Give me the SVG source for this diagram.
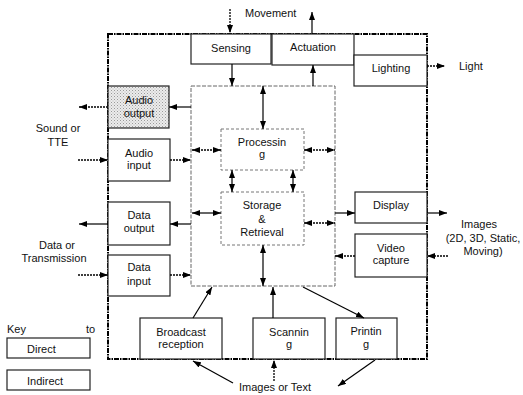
<svg xmlns="http://www.w3.org/2000/svg" width="523" height="395" viewBox="0 0 523 395">
  <defs>
    <marker id="ah" viewBox="0 0 8 6" refX="8" refY="3" markerWidth="8" markerHeight="6" markerUnits="userSpaceOnUse" orient="auto-start-reverse">
      <path d="M0,0 L8,3 L0,6 Z" fill="#000"/>
    </marker>
    <pattern id="stipple" width="3" height="3" patternUnits="userSpaceOnUse">
      <rect width="3" height="3" fill="#ececec"/>
      <rect x="0" y="0" width="1" height="1" fill="#9a9a9a"/>
      <rect x="1.5" y="1.5" width="1" height="1" fill="#b5b5b5"/>
    </pattern>
    <style>
      text { font-family: "Liberation Sans", Arial, sans-serif; font-size: 11px; fill: #111; }
      .c { text-anchor: middle; }
      .box { fill: #fff; stroke: #222; stroke-width: 1.2; }
      .inner { fill: #fff; stroke: #777; stroke-width: 1; stroke-dasharray: 3 2; }
      .hub { fill: #fff; stroke: #666; stroke-width: 1; stroke-dasharray: 4 1.5; }
      .frame { fill: none; stroke: #000; stroke-width: 2; stroke-dasharray: 5 1 1.5 1; }
      .solid { stroke: #000; stroke-width: 1.2; fill: none; }
      .dot { stroke: #000; stroke-width: 1.3; fill: none; stroke-dasharray: 2 1; }
      .one { marker-end: url(#ah); }
      .two { marker-start: url(#ah); marker-end: url(#ah); }
    </style>
  </defs>

  <!-- central hub region -->
  <g id="hub">
    <rect class="hub" x="191" y="86" width="144" height="200"/>
  </g>

  <!-- system boundary -->
  <g id="boundary">
    <rect class="frame" x="108" y="34" width="319" height="325"/>
  </g>

  <g id="sensing">
    <rect class="box" x="191" y="34" width="80" height="30"/>
    <text class="c" x="231" y="52">Sensing</text>
  </g>
  <g id="actuation">
    <rect class="box" x="272" y="34" width="82" height="31"/>
    <text class="c" x="313" y="51">Actuation</text>
  </g>
  <g id="lighting">
    <rect class="box" x="354" y="55" width="73" height="31"/>
    <text class="c" x="391" y="72">Lighting</text>
  </g>

  <g id="audio-output">
    <rect class="box" x="108" y="86" width="61" height="42" style="fill:url(#stipple)"/>
    <text class="c" x="139" y="104">Audio</text>
    <text class="c" x="139" y="117">output</text>
  </g>
  <g id="audio-input">
    <rect class="box" x="108" y="139" width="62" height="42"/>
    <text class="c" x="139" y="157">Audio</text>
    <text class="c" x="139" y="169">input</text>
  </g>
  <g id="data-output">
    <rect class="box" x="108" y="202" width="62" height="43"/>
    <text class="c" x="139" y="219">Data</text>
    <text class="c" x="139" y="232">output</text>
  </g>
  <g id="data-input">
    <rect class="box" x="108" y="255" width="62" height="41"/>
    <text class="c" x="139" y="271">Data</text>
    <text class="c" x="139" y="285">input</text>
  </g>

  <g id="processing">
    <rect class="inner" x="221" y="129" width="83" height="41"/>
    <text class="c" x="262" y="146">Processin</text>
    <text class="c" x="262" y="158">g</text>
  </g>
  <g id="storage">
    <rect class="inner" x="221" y="192" width="83" height="53"/>
    <text class="c" x="262" y="209">Storage</text>
    <text class="c" x="262" y="223">&amp;</text>
    <text class="c" x="262" y="236">Retrieval</text>
  </g>

  <g id="display">
    <rect class="box" x="355" y="192" width="72" height="31"/>
    <text class="c" x="391" y="209">Display</text>
  </g>
  <g id="video-capture">
    <rect class="box" x="355" y="234" width="72" height="43"/>
    <text class="c" x="391" y="252">Video</text>
    <text class="c" x="391" y="264">capture</text>
  </g>

  <g id="broadcast">
    <rect class="box" x="140" y="318" width="82" height="41"/>
    <text class="c" x="181" y="336">Broadcast</text>
    <text class="c" x="181" y="348">reception</text>
  </g>
  <g id="scanning">
    <rect class="box" x="253" y="318" width="72" height="41"/>
    <text class="c" x="289" y="336">Scannin</text>
    <text class="c" x="289" y="348">g</text>
  </g>
  <g id="printing">
    <rect class="box" x="336" y="318" width="61" height="41"/>
    <text class="c" x="366" y="335">Printin</text>
    <text class="c" x="366" y="348">g</text>
  </g>

  <!-- external labels -->
  <g id="labels">
    <text x="245" y="17">Movement</text>
    <text x="459" y="70">Light</text>
    <text class="c" x="58" y="132">Sound or</text>
    <text class="c" x="58" y="146">TTE</text>
    <text class="c" x="57" y="249">Data or</text>
    <text class="c" x="54" y="262">Transmission</text>
    <text class="c" x="479" y="228">Images</text>
    <text class="c" x="483" y="242">(2D, 3D, Static,</text>
    <text class="c" x="483" y="255">Moving)</text>
    <text class="c" x="275" y="391">Images or Text</text>
  </g>

  <!-- key -->
  <g id="key">
    <text x="7" y="333">Key</text>
    <text x="86" y="333">to</text>
    <rect class="box" x="7" y="338" width="83" height="20"/>
    <text x="27" y="353">Direct</text>
    <rect class="box" x="7" y="370" width="83" height="20"/>
    <text x="27" y="385">Indirect</text>
  </g>

  <!-- connectors -->
  <g id="connectors">
    <!-- top -->
    <line class="dot one" x1="230" y1="9" x2="230" y2="33"/>
    <line class="solid one" x1="312" y1="34" x2="312" y2="12"/>
    <line class="solid one" x1="232" y1="64" x2="232" y2="86"/>
    <line class="solid one" x1="313" y1="86" x2="313" y2="65"/>
    <line class="dot one" x1="427" y1="66" x2="445" y2="66"/>

    <!-- left side -->
    <line class="solid one" x1="191" y1="107" x2="169" y2="107"/>
    <line class="dot one" x1="108" y1="107" x2="79" y2="107"/>
    <line class="dot one" x1="78" y1="160" x2="108" y2="160"/>
    <line class="dot one" x1="170" y1="160" x2="191" y2="160"/>
    <line class="solid one" x1="191" y1="224" x2="170" y2="224"/>
    <line class="solid one" x1="108" y1="224" x2="79" y2="224"/>
    <line class="dot one" x1="78" y1="275" x2="108" y2="275"/>
    <line class="dot one" x1="170" y1="275" x2="191" y2="275"/>

    <!-- inside hub -->
    <line class="solid two" x1="263" y1="86" x2="263" y2="129"/>
    <line class="dot two" x1="192" y1="150" x2="221" y2="150"/>
    <line class="dot two" x1="304" y1="150" x2="335" y2="150"/>
    <line class="solid two" x1="232" y1="170" x2="232" y2="192"/>
    <line class="solid two" x1="293" y1="170" x2="293" y2="192"/>
    <line class="solid two" x1="192" y1="213" x2="221" y2="213"/>
    <line class="dot two" x1="304" y1="223" x2="335" y2="223"/>
    <line class="solid two" x1="263" y1="245" x2="263" y2="286"/>

    <!-- right side -->
    <line class="solid one" x1="335" y1="213" x2="355" y2="213"/>
    <line class="solid one" x1="427" y1="213" x2="447" y2="213"/>
    <line class="dot one" x1="448" y1="256" x2="427" y2="256"/>
    <line class="dot one" x1="355" y1="256" x2="335" y2="256"/>

    <!-- bottom -->
    <line class="solid one" x1="193" y1="318" x2="212" y2="287"/>
    <line class="solid one" x1="273" y1="318" x2="273" y2="287"/>
    <line class="solid one" x1="303" y1="287" x2="364" y2="318"/>
    <line class="solid one" x1="233" y1="383" x2="193" y2="361"/>
    <line class="dot one" x1="274" y1="381" x2="274" y2="360"/>
    <line class="solid one" x1="375" y1="360" x2="338" y2="386"/>
  </g>
</svg>
